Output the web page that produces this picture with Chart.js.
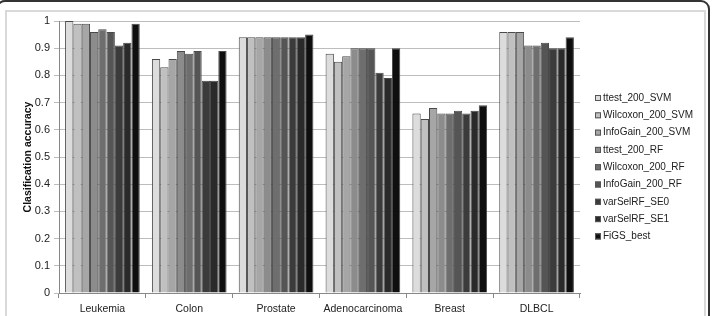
<!DOCTYPE html>
<html>
<head>
<meta charset="utf-8">
<script src="https://cdn.jsdelivr.net/npm/chart.js@4/dist/chart.umd.min.js"></script>
<style>
    html, body { margin: 0; padding: 0; background: #fff; overflow: hidden; }
    #wrap { position: relative; width: 716px; height: 316px; overflow: hidden; }
    #outer { position: absolute; left: -4px; top: 0; width: 714px; height: 340px;
             border: 2px solid #333; border-radius: 9px; box-sizing: border-box; }
    #inner { position: absolute; left: 5px; top: 10px; width: 701px; height: 330px;
             border: 2px solid #d9d9d9; box-sizing: border-box; }
    #accuracyChart { position: absolute; left: 0; top: 0; }
</style>
</head>
<body>
<div id="wrap">
    <div id="outer"></div>
    <div id="inner"></div>
    <canvas id="accuracyChart" width="716" height="316"></canvas>
</div>
<script>
const datasetNames = ['Leukemia', 'Colon', 'Prostate', 'Adenocarcinoma', 'Breast', 'DLBCL'];

const ttest200Svm    = [1.00, 0.86, 0.94, 0.88, 0.66, 0.96];
const wilcoxon200Svm = [0.99, 0.83, 0.94, 0.85, 0.64, 0.96];
const infoGain200Svm = [0.99, 0.86, 0.94, 0.87, 0.68, 0.96];
const ttest200Rf     = [0.96, 0.89, 0.94, 0.90, 0.66, 0.91];
const wilcoxon200Rf  = [0.97, 0.88, 0.94, 0.90, 0.66, 0.91];
const infoGain200Rf  = [0.96, 0.89, 0.94, 0.90, 0.67, 0.92];
const varSelRfSe0    = [0.91, 0.78, 0.94, 0.81, 0.66, 0.90];
const varSelRfSe1    = [0.92, 0.78, 0.94, 0.79, 0.67, 0.90];
const figsBest       = [0.99, 0.89, 0.95, 0.90, 0.69, 0.94];

const seriesNames = ['ttest_200_SVM', 'Wilcoxon_200_SVM', 'InfoGain_200_SVM', 'ttest_200_RF',
                     'Wilcoxon_200_RF', 'InfoGain_200_RF', 'varSelRF_SE0', 'varSelRF_SE1', 'FiGS_best'];
const seriesValues = [ttest200Svm, wilcoxon200Svm, infoGain200Svm, ttest200Rf,
                      wilcoxon200Rf, infoGain200Rf, varSelRfSe0, varSelRfSe1, figsBest];
const seriesColors = ['#dcdcdc', '#c0c0c0', '#a6a6a6', '#8c8c8c', '#6e6e6e',
                      '#555555', '#3b3b3b', '#2a2a2a', '#0f0f0f'];

const font = 'Liberation Sans, Arial, sans-serif';

// legend drawn by hand on the right, like the Excel original
const sideLegend = {
    id: 'sideLegend',
    afterDraw(chart) {
        const c = chart.ctx;
        const area = chart.chartArea;
        const x = area.right + 15;
        let y = area.top + 77;
        c.save();
        c.font = '10px ' + font;
        c.textBaseline = 'middle';
        chart.data.datasets.forEach(function (ds) {
            c.fillStyle = ds.backgroundColor;
            c.fillRect(x, y - 3, 6, 6);
            c.strokeStyle = '#555';
            c.lineWidth = 1;
            c.strokeRect(x + 0.5, y - 2.5, 5, 5);
            c.fillStyle = '#222';
            c.fillText(ds.label, x + 8, y);
            y += 17.3;
        });
        c.restore();
    }
};

const ctx = document.getElementById('accuracyChart').getContext('2d');

new Chart(ctx, {
    type: 'bar',
    data: {
        labels: datasetNames,
        datasets: seriesNames.map(function (name, i) {
            return {
                label: name,
                data: seriesValues[i],
                backgroundColor: seriesColors[i],
                borderColor: '#4a4a4a',
                borderWidth: 1,
                categoryPercentage: 0.86,
                barPercentage: 1.0,
            };
        }),
    },
    options: {
        responsive: false,
        animation: false,
        layout: { padding: { left: 22, top: 21, right: 136, bottom: 0 } },
        plugins: {
            legend: { display: false },
            tooltip: { enabled: false },
        },
        scales: {
            x: {
                grid: { display: true, drawOnChartArea: false, tickLength: 5, color: '#888' },
                border: { color: '#888' },
                ticks: { color: '#222', font: { family: font, size: 10.5 }, padding: 5 },
                afterFit(scale) { scale.height = 23; },
            },
            y: {
                min: 0,
                max: 1,
                grid: { color: '#bdbdbd', tickLength: 5 },
                border: { color: '#888' },
                ticks: {
                    stepSize: 0.1,
                    color: '#222',
                    font: { family: font, size: 11 },
                    padding: 4,
                    callback: function (v) { return String(Number(v.toFixed(1))); },
                },
                title: {
                    display: true,
                    text: 'Clasification accuracy',
                    color: '#111',
                    font: { family: font, size: 10.5, weight: 'bold' },
                    padding: 0,
                },
                afterFit(scale) { scale.width = 37; },
            },
        },
    },
    plugins: [sideLegend],
});
</script>
</body>
</html>
